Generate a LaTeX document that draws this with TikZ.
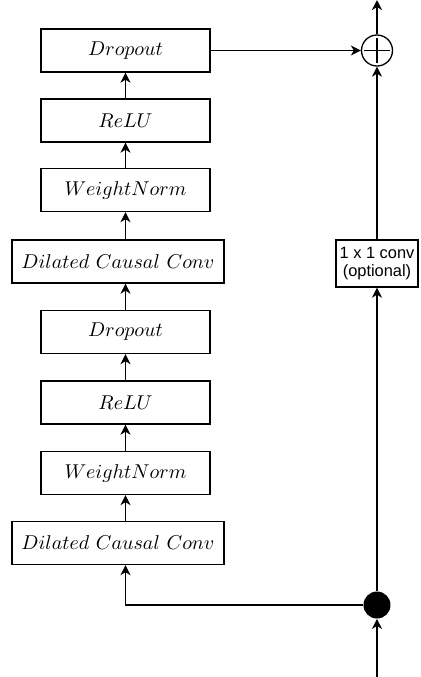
\documentclass[tikz,border=0pt]{standalone}
\usepackage{fontspec}
\newfontfamily\labelsans{Liberation Sans}
\usetikzlibrary{arrows.meta}
\begin{document}
\begin{tikzpicture}[x=0.5pt,y=-0.5pt,
  layer/.style={draw, line width=0.65pt, minimum width=84.5pt, minimum height=21.5pt, inner sep=0pt},
  widelayer/.style={layer, minimum width=106pt},
  convbox/.style={draw, line width=0.65pt, minimum width=41pt, minimum height=23.5pt, inner sep=0pt,
    align=center, font=\labelsans\fontsize{8.2}{9.4}\selectfont},
  arr/.style={line width=0.8pt, -{Stealth[length=5pt,width=5pt,inset=1.5pt]}},
  sumnode/.style={draw, circle, line width=0.65pt, minimum size=15.5pt, inner sep=0pt},
  splitdot/.style={circle, fill=black, minimum size=13.5pt, inner sep=0pt}
]
\useasboundingbox (0,0) rectangle (421,677);

% residual block, stacked bottom to top
\node[layer]     (drop1) at (125.5,50.5)  {$Dropout$};
\node[layer]     (relu1) at (125.5,120.5) {$ReLU$};
\node[layer]     (wn1)   at (125.5,190)   {$WeightNorm$};
\node[widelayer] (dcc1)  at (118,261.5)   {$Dilated\ Causal\ Conv$};
\node[layer]     (drop2) at (125.5,332)   {$Dropout$};
\node[layer]     (relu2) at (125.5,402.5) {$ReLU$};
\node[layer]     (wn2)   at (125.5,473)   {$WeightNorm$};
\node[widelayer] (dcc2)  at (118,543)     {$Dilated\ Causal\ Conv$};

% skip path
\node[convbox]  (conv) at (377,263.5) {1 x 1 conv\\(optional)};
\node[sumnode]  (sum)  at (377,50.5) {};
\draw[line width=0.65pt] ([xshift=-6.4pt]sum.center) -- ([xshift=6.4pt]sum.center)
                         ([yshift=-6.4pt]sum.center) -- ([yshift=6.4pt]sum.center);
\node[splitdot] (split) at (377,605) {};
\coordinate (input)  at (377,677);
\coordinate (output) at (377,0);

% connectors
\draw[arr] (input) -- (split.south);
\draw[arr] (split.west) -| (dcc2.south -| wn2.south);
\draw[arr] (wn2.south |- dcc2.north) -- (wn2.south);
\draw[arr] (wn2.north) -- (relu2.south);
\draw[arr] (relu2.north) -- (drop2.south);
\draw[arr] (drop2.north) -- (drop2.north |- dcc1.south);
\draw[arr] (wn1.south |- dcc1.north) -- (wn1.south);
\draw[arr] (wn1.north) -- (relu1.south);
\draw[arr] (relu1.north) -- (drop1.south);
\draw[arr] (drop1.east) -- (sum.west);
\draw[arr] (split.north) -- (conv.south);
\draw[arr] (conv.north) -- (sum.south);
\draw[arr] (sum.north) -- (output);
\end{tikzpicture}
\end{document}
